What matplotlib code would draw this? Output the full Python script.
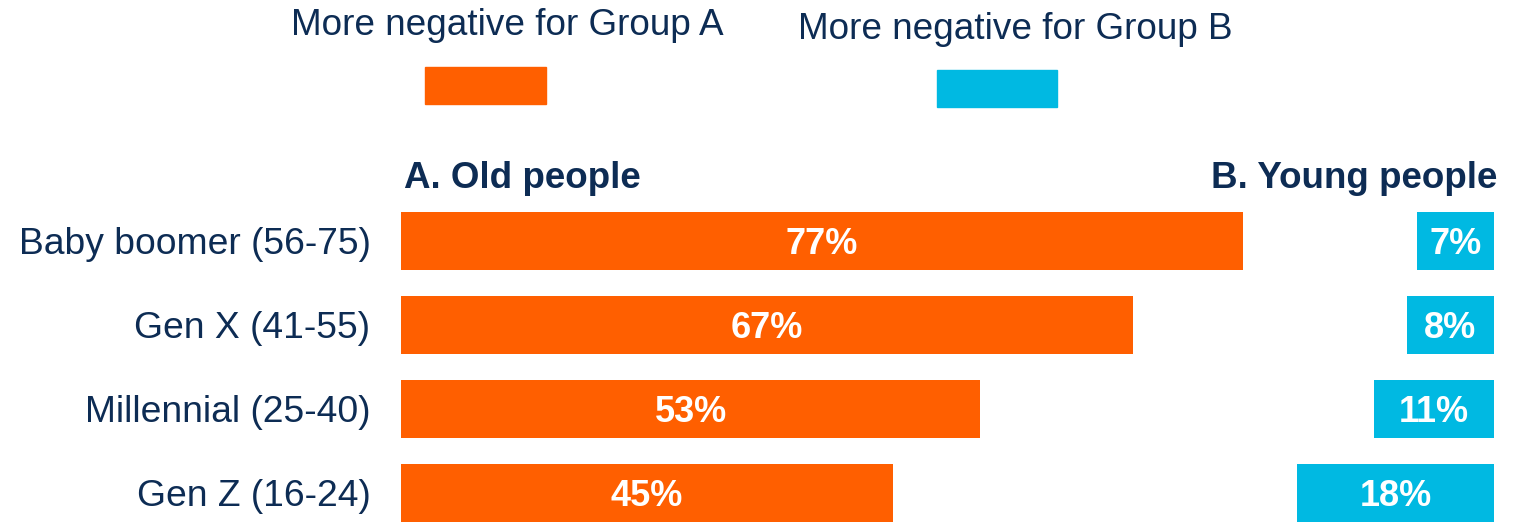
import matplotlib.pyplot as plt
from matplotlib.patches import Rectangle

# survey data
groups = ['Baby boomer (56-75)', 'Gen X (41-55)', 'Millennial (25-40)', 'Gen Z (16-24)']
old_people = [77, 67, 53, 45]
young_people = [7, 8, 11, 18]

ORANGE = '#FF5F00'
BLUE = '#00B9E2'
NAVY = '#0D2C54'

W, H = 1526, 523
fig = plt.figure(figsize=(W / 100, H / 100), dpi=100)
plt.rcParams['font.family'] = ['Liberation Sans', 'DejaVu Sans']

# axes spans full height, bars placed at row index
ax = fig.add_axes([401 / W, 0, 1093 / W, 1])
rows = list(range(len(groups)))
ax.barh(rows, old_people, height=0.69, color=ORANGE, left=0)
ax.barh(rows, young_people, height=0.69, color=BLUE,
        left=[100 - v for v in young_people])
ax.set_xlim(0, 100)
ax.set_ylim(282 / 84, -241 / 84)

# value labels, baseline a bit below bar centre
off = 13 / 84
for i, v in enumerate(old_people):
    ax.text(v / 2, i + off, f'{v}%', ha='center', va='baseline', color='white',
            fontsize=26, fontweight='bold')
for i, v in enumerate(young_people):
    ax.text(100 - v / 2, i + off, f'{v}%', ha='center', va='baseline', color='white',
            fontsize=26, fontweight='bold')

ax.set_yticks(rows)
ax.set_yticklabels(groups, fontsize=26.8, color=NAVY)
ax.tick_params(axis='y', length=0, pad=22)
ax.set_xticks([])
for s in ax.spines.values():
    s.set_visible(False)

# column headers
fig.text(404 / W, 1 - 188 / H, 'A. Old people', ha='left', va='baseline',
         fontsize=26.5, fontweight='bold', color=NAVY)
fig.text(1497 / W, 1 - 188 / H, 'B. Young people', ha='right', va='baseline',
         fontsize=26.5, fontweight='bold', color=NAVY)

# legend
fig.text(507 / W, 1 - 35 / H, 'More negative for Group A', ha='center',
         va='baseline', fontsize=26.6, color=NAVY)
fig.text(1015 / W, 1 - 39 / H, 'More negative for Group B', ha='center',
         va='baseline', fontsize=26.6, color=NAVY)
fig.patches.append(Rectangle((425 / W, 1 - 104 / H), 121 / W, 37 / H,
                             transform=fig.transFigure, color=ORANGE))
fig.patches.append(Rectangle((937 / W, 1 - 107 / H), 120 / W, 37 / H,
                             transform=fig.transFigure, color=BLUE))

fig.savefig('out.png', dpi=100)
